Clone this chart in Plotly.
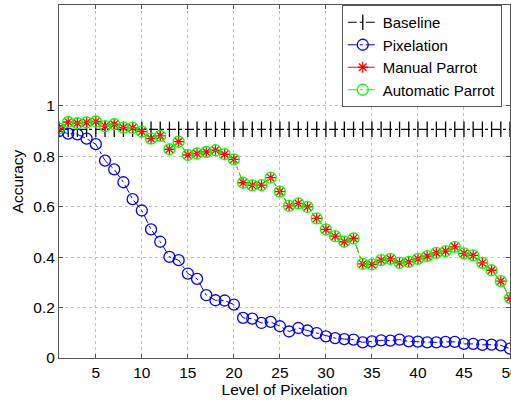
import plotly.graph_objects as go

levels = list(range(1, 51))
baseline = [0.907] * 50
pixelation = [0.90, 0.89, 0.887, 0.87, 0.848, 0.783, 0.748, 0.697, 0.63, 0.585,
              0.51, 0.461, 0.401, 0.388, 0.335, 0.314, 0.249, 0.229, 0.228, 0.212,
              0.159, 0.156, 0.139, 0.143, 0.126, 0.105, 0.119, 0.109, 0.099, 0.086,
              0.079, 0.075, 0.073, 0.062, 0.066, 0.07, 0.069, 0.073, 0.066, 0.065,
              0.062, 0.062, 0.064, 0.064, 0.056, 0.056, 0.052, 0.053, 0.05, 0.037]
manual_parrot = [0.91, 0.936, 0.931, 0.934, 0.938, 0.92, 0.927, 0.914, 0.913, 0.898,
                 0.87, 0.881, 0.828, 0.858, 0.805, 0.811, 0.817, 0.824, 0.808, 0.788,
                 0.695, 0.685, 0.686, 0.715, 0.66, 0.603, 0.613, 0.599, 0.554, 0.51,
                 0.483, 0.461, 0.474, 0.373, 0.371, 0.388, 0.393, 0.377, 0.381, 0.393,
                 0.404, 0.417, 0.424, 0.441, 0.415, 0.407, 0.377, 0.348, 0.305, 0.238]
automatic_parrot = list(manual_parrot)

x_ticks = [5, 10, 15, 20, 25, 30, 35, 40, 45, 50]
y_ticks = [0, 0.2, 0.4, 0.6, 0.8, 1]
y_tick_labels = ["0", "0.2", "0.4", "0.6", "0.8", "1"]

font = "Liberation Sans, Arial, Helvetica, sans-serif"
fs = 15.5

fig = go.Figure()
fig.add_trace(go.Scatter(x=levels, y=baseline, name="Baseline", mode="lines+markers",
                         line=dict(color="black", width=1.2, dash="dashdot"),
                         marker=dict(symbol="line-ns-open", size=11, color="black",
                                     line=dict(width=1.3, color="black"))))
fig.add_trace(go.Scatter(x=levels, y=pixelation, name="Pixelation", mode="lines+markers",
                         line=dict(color="#0000ff", width=1, dash="dashdot"),
                         marker=dict(symbol="circle-open", size=11, color="#0000ff",
                                     line=dict(width=1.3, color="#0000ff"))))
fig.add_trace(go.Scatter(x=levels, y=manual_parrot, name="Manual Parrot", mode="lines+markers",
                         line=dict(color="#ff0000", width=1, dash="dashdot"),
                         marker=dict(symbol="asterisk-open", size=9, color="#ff0000",
                                     line=dict(width=1.3, color="#ff0000"))))
fig.add_trace(go.Scatter(x=levels, y=automatic_parrot, name="Automatic Parrot", mode="lines+markers",
                         line=dict(color="#00ff00", width=1, dash="dashdot"),
                         marker=dict(symbol="circle-open", size=11, color="#00ff00",
                                     line=dict(width=1.3, color="#00ff00"))))

axis_common = dict(showline=True, linecolor="#555555", linewidth=1, mirror="ticks",
                   ticks="inside", ticklen=4, tickcolor="#555555",
                   showgrid=True, gridcolor="#c0c0c0", griddash="dot", gridwidth=1,
                   zeroline=False, automargin=False, ticklabeloverflow="allow",
                   tickfont=dict(family=font, size=fs, color="black"))

fig.update_xaxes(range=[1, 50], tickvals=x_ticks,
                 title=dict(text="Level of Pixelation",
                            font=dict(family=font, size=fs, color="black"), standoff=4),
                 **axis_common)
fig.update_yaxes(range=[0, 1.4], tickvals=y_ticks, ticktext=y_tick_labels,
                 title=dict(text="Accuracy", font=dict(family=font, size=fs, color="black"), standoff=5),
                 **axis_common)

fig.update_layout(
    width=511, height=400,
    margin=dict(l=59, r=1, t=5, b=42, autoexpand=False),
    plot_bgcolor="white", paper_bgcolor="white",
    font=dict(family=font, size=fs, color="black"),
    legend=dict(x=0.627, y=1.0, xanchor="left", yanchor="top",
                bgcolor="white", bordercolor="#555555", borderwidth=1,
                font=dict(family=font, size=15, color="black"),
                tracegroupgap=0, itemwidth=30),
    showlegend=True,
)

fig.write_html("out.html", config={"displayModeBar": False},
               post_script="document.body.style.margin='0';document.body.style.overflow='hidden';")
